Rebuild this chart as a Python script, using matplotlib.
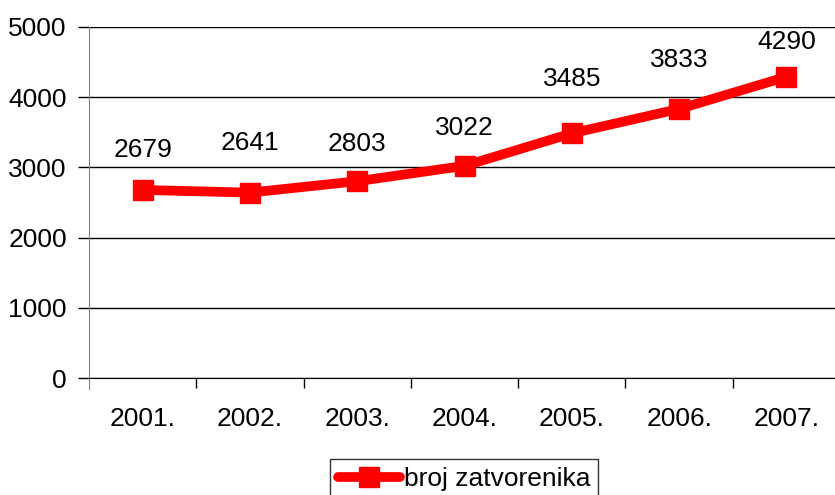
import numpy as np
import matplotlib
matplotlib.use('Agg')
import matplotlib.pyplot as plt
from matplotlib.ticker import FixedLocator


years = ["2001.", "2002.", "2003.", "2004.", "2005.", "2006.", "2007."]
prisoners = [2679, 2641, 2803, 3022, 3485, 3833, 4290]
series_name = "broj zatvorenika"

# label offsets above the markers (points), they sit a bit unevenly in the original
label_offsets = [29, 36, 27, 27, 39, 35, 25]

plt.rcParams['font.family'] = ['Liberation Sans', 'DejaVu Sans']
fs = 19

fig = plt.figure(figsize=(8.35, 4.95), dpi=100)
ax = fig.add_axes([89 / 835, 1 - 378 / 495, 751 / 835, 351 / 495])

x = np.arange(len(years))
ax.plot(x, prisoners, color='#FF0000', lw=7, marker='s', ms=14.5,
        solid_capstyle='round', label=series_name, clip_on=False, zorder=3)

for xi, v, off in zip(x, prisoners, label_offsets):
    ax.annotate(str(v), (xi, v), xytext=(0, off), textcoords='offset points',
                ha='center', va='center', fontsize=fs)

ax.set_xlim(-0.5, len(years) - 0.5)
ax.set_ylim(0, 5000)
ax.set_yticks(np.arange(0, 5001, 1000))
ax.grid(axis='y', color='black', lw=1)
ax.set_axisbelow(True)

ax.set_xticks(x)
ax.set_xticklabels(years)
ax.xaxis.set_minor_locator(FixedLocator(np.arange(0.5, len(years) - 0.5, 1)))
ax.tick_params(axis='x', which='major', length=0, pad=21, labelsize=fs)
ax.tick_params(axis='x', which='minor', length=7, width=1, color='black')
ax.tick_params(axis='y', length=8, width=1, color='black', pad=8, labelsize=fs)

for s in ['top', 'right']:
    ax.spines[s].set_visible(False)
ax.spines['left'].set_color('#808080')
ax.spines['left'].set_bounds(-150, 5000)
ax.spines['bottom'].set_color('black')

leg = fig.legend(loc='upper left', bbox_to_anchor=(330 / 835, 1 - 459 / 495),
                 fontsize=fs, frameon=True, fancybox=False, edgecolor='black',
                 handlelength=2.35, handletextpad=0.15, borderpad=0.3,
                 borderaxespad=0)
leg.get_frame().set_linewidth(1)

fig.savefig('out.png', dpi=100)
